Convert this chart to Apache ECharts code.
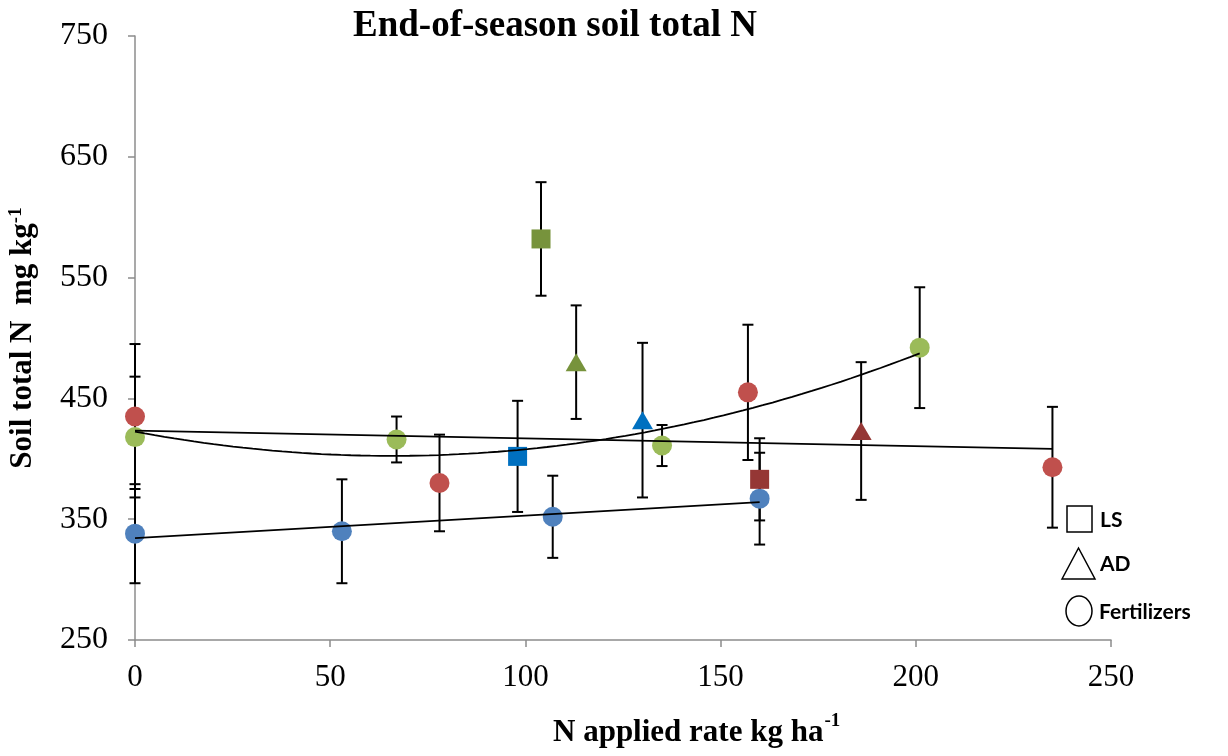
<!DOCTYPE html>
<html>
<head>
<meta charset="utf-8">
<title>End-of-season soil total N</title>
<script src="https://cdn.jsdelivr.net/npm/echarts@6/dist/echarts.min.js"></script>
<style>
  html, body { margin: 0; padding: 0; background: #ffffff; }
  #chart { width: 1228px; height: 756px; }
</style>
</head>
<body>
<div id="chart"></div>
<script>
// Fertilizer plots (circles), one set per season
const years = ['2009', '2010', '2011'];
const rate2009 = [0, 53, 107, 160];
const soilN2009 = [338, 340, 352, 367];
const se2009 = [41, 43, 34, 38];

const rate2010 = [0, 78, 157, 235];
const soilN2010 = [435, 380, 455, 393];
const se2010 = [60, 40, 56, 50];

const rate2011 = [0, 67, 135, 201];
const soilN2011 = [418, 416, 411, 492];
const se2011 = [50, 19, 17, 50];

// Liquid swine manure (LS), in season order 2009, 2010, 2011
const rateLS = [98, 160, 104];
const soilNLS = [402, 383, 582];
const seLS = [46, 34, 47];

// Anaerobic digestate (AD), in season order 2009, 2010, 2011
const rateAD = [130, 186, 113];
const soilNAD = [432, 423, 480];
const seAD = [64, 57, 47];

// Axis ticks
const xTicks = [0, 50, 100, 150, 200, 250];
const yTicks = [250, 350, 450, 550, 650, 750];

const circleColors = ['#4F81BD', '#C0504D', '#9BBB59'];
const manureColors = ['#0070C0', '#953735', '#77933C'];

// Least-squares fits used for the season trend lines
function linearFit(xs, ys) {
  const n = xs.length;
  const mx = xs.reduce((a, b) => a + b, 0) / n;
  const my = ys.reduce((a, b) => a + b, 0) / n;
  let sxy = 0, sxx = 0;
  for (let i = 0; i < n; i++) { sxy += (xs[i] - mx) * (ys[i] - my); sxx += (xs[i] - mx) * (xs[i] - mx); }
  const b = sxy / sxx;
  const a = my - b * mx;
  return x => a + b * x;
}
function quadFit(xs, ys) {
  // normal equations for y = c0 + c1 x + c2 x^2
  const S = [0, 0, 0, 0, 0], T = [0, 0, 0];
  for (let i = 0; i < xs.length; i++) {
    let p = 1;
    for (let k = 0; k < 5; k++) { S[k] += p; if (k < 3) T[k] += p * ys[i]; p *= xs[i]; }
  }
  const M = [[S[0], S[1], S[2], T[0]], [S[1], S[2], S[3], T[1]], [S[2], S[3], S[4], T[2]]];
  for (let c = 0; c < 3; c++) {
    for (let r = c + 1; r < 3; r++) {
      const f = M[r][c] / M[c][c];
      for (let k = c; k < 4; k++) M[r][k] -= f * M[c][k];
    }
  }
  const cf = [0, 0, 0];
  for (let r = 2; r >= 0; r--) {
    let s = M[r][3];
    for (let k = r + 1; k < 3; k++) s -= M[r][k] * cf[k];
    cf[r] = s / M[r][r];
  }
  return x => cf[0] + cf[1] * x + cf[2] * x * x;
}
function sampleFit(fn, xs, steps) {
  const lo = Math.min(...xs), hi = Math.max(...xs);
  const pts = [];
  for (let i = 0; i <= steps; i++) { const x = lo + (hi - lo) * i / steps; pts.push([x, fn(x)]); }
  return pts;
}

function errorRows(xs, ys, es) { return xs.map((x, i) => [x, ys[i] - es[i], ys[i] + es[i]]); }
function pointRows(xs, ys) { return xs.map((x, i) => [x, ys[i]]); }

const fits = [
  sampleFit(linearFit(rate2009, soilN2009), rate2009, 1),
  sampleFit(linearFit(rate2010, soilN2010), rate2010, 1),
  sampleFit(quadFit(rate2011, soilN2011), rate2011, 80)
];
const yearLabelOffset = [[16, 24], [20, -9], [19, -17]];
const yearLabelAnchor = [null, null, [rate2011[3], soilN2011[3]]];

function errorBarSeries(rows) {
  return {
    type: 'custom',
    data: rows,
    encode: { x: 0, y: [1, 2] },
    z: 2,
    silent: true,
    renderItem: function (params, api) {
      const x = api.value(0);
      const lo = api.coord([x, api.value(1)]);
      const hi = api.coord([x, api.value(2)]);
      const w = 5.5;
      const st = { stroke: '#000', lineWidth: 2 };
      return {
        type: 'group',
        children: [
          { type: 'line', shape: { x1: lo[0], y1: lo[1], x2: hi[0], y2: hi[1] }, style: st },
          { type: 'line', shape: { x1: lo[0] - w, y1: lo[1], x2: lo[0] + w, y2: lo[1] }, style: st },
          { type: 'line', shape: { x1: hi[0] - w, y1: hi[1], x2: hi[0] + w, y2: hi[1] }, style: st }
        ]
      };
    }
  };
}

const series = [];
// error bars
series.push(errorBarSeries(errorRows(rate2009, soilN2009, se2009)));
series.push(errorBarSeries(errorRows(rate2010, soilN2010, se2010)));
series.push(errorBarSeries(errorRows(rate2011, soilN2011, se2011)));
series.push(errorBarSeries(errorRows(rateLS, soilNLS, seLS)));
series.push(errorBarSeries(errorRows(rateAD, soilNAD, seAD)));

// fertilizer circles
[[rate2009, soilN2009], [rate2010, soilN2010], [rate2011, soilN2011]].forEach((d, i) => {
  series.push({
    type: 'scatter', data: pointRows(d[0], d[1]), symbol: 'circle', symbolSize: 20, z: 3,
    itemStyle: { color: circleColors[i], opacity: 1 }
  });
});
// manure squares and triangles, coloured by season
years.forEach((y, i) => {
  series.push({
    type: 'scatter', data: [[rateLS[i], soilNLS[i]]], symbol: 'rect', symbolSize: 19, z: 3,
    itemStyle: { color: manureColors[i], opacity: 1 }
  });
  series.push({
    type: 'scatter', data: [[rateAD[i], soilNAD[i]]], symbol: 'triangle', symbolSize: [21, 18], z: 3,
    itemStyle: { color: manureColors[i], opacity: 1 }
  });
});

// trend lines with year labels
fits.forEach((pts, i) => {
  const data = pts.map(p => ({ value: p }));
  series.push({
    type: 'line', data: data, showSymbol: false, smooth: false, z: 4, silent: true,
    lineStyle: { color: '#000', width: 1.8 },
    markPoint: {
      symbol: 'none',
      data: [{
        coord: yearLabelAnchor[i] || pts[pts.length - 1],
        label: {
          show: true, formatter: years[i], position: 'right', distance: 0,
          offset: yearLabelOffset[i],
          fontFamily: 'Liberation Sans, Arial, sans-serif', fontSize: 30, color: '#000'
        }
      }]
    }
  });
});

const serif = 'Liberation Serif, Times New Roman, serif';
const xTitleFont = 'bold 31px ' + serif;
const xTitleLeft = 553;

const option = {
  animation: false,
  backgroundColor: '#ffffff',
  grid: { left: 135, right: 117, top: 36, bottom: 116, containLabel: false, outerBoundsMode: 'none' },
  xAxis: {
    type: 'value', min: xTicks[0], max: xTicks[xTicks.length - 1], interval: xTicks[1] - xTicks[0],
    splitLine: { show: false },
    axisLine: { show: true, lineStyle: { color: '#8c8c8c', width: 1.5 } },
    axisTick: { show: true, length: 7, lineStyle: { color: '#8c8c8c', width: 1.5 } },
    axisLabel: { margin: 22, fontFamily: serif, fontSize: 31, color: '#000' }
  },
  yAxis: {
    type: 'value', min: yTicks[0], max: yTicks[yTicks.length - 1], interval: yTicks[1] - yTicks[0],
    splitLine: { show: false },
    axisLine: { show: true, lineStyle: { color: '#8c8c8c', width: 1.5 } },
    axisTick: { show: true, length: 7, lineStyle: { color: '#8c8c8c', width: 1.5 } },
    axisLabel: { margin: 27, fontFamily: serif, fontSize: 32, color: '#000' },
    name: 'Soil total N  mg kg{sup|-1}',
    nameLocation: 'middle', nameGap: 97, nameRotate: 90,
    nameTextStyle: {
      fontFamily: serif, fontSize: 31, fontWeight: 'bold', color: '#000',
      rich: { sup: { fontFamily: serif, fontSize: 19, fontWeight: 'bold', verticalAlign: 'top', padding: [0, 0, 12, 0] } }
    }
  },
  graphic: [
    {
      type: 'text', z: 10,
      style: { text: 'End-of-season soil total N', x: 555, y: 26, textAlign: 'center', textVerticalAlign: 'middle',
        font: 'bold 37px ' + serif, fill: '#000' }
    },
    {
      type: 'text', z: 10,
      style: { text: 'N applied rate kg ha', x: xTitleLeft, y: 733, textAlign: 'left', textVerticalAlign: 'middle',
        font: xTitleFont, fill: '#000' }
    },
    // legend key for manure types
    { type: 'rect', shape: { x: 1067, y: 506, width: 25, height: 26 }, style: { fill: 'none', stroke: '#000', lineWidth: 1.5 } },
    { type: 'polygon', shape: { points: [[1062, 579], [1078.5, 548], [1095, 579]] }, style: { fill: 'none', stroke: '#000', lineWidth: 1.5 } },
    { type: 'ellipse', shape: { cx: 1079, cy: 611, rx: 13, ry: 15 }, style: { fill: 'none', stroke: '#000', lineWidth: 1.5 } },
    { type: 'text', style: { text: 'LS', x: 1100, y: 520, textVerticalAlign: 'middle', font: 'bold 21px Lato, sans-serif', fill: '#000' } },
    { type: 'text', style: { text: 'AD', x: 1100, y: 564, textVerticalAlign: 'middle', font: 'bold 21px Lato, sans-serif', fill: '#000' } },
    { type: 'text', style: { text: 'Fertilizers', x: 1099, y: 612, textVerticalAlign: 'middle', font: 'bold 21px Lato, sans-serif', fill: '#000' } }
  ],
  series: series
};

const chart = echarts.init(document.getElementById('chart'), null, { renderer: 'canvas' });
chart.setOption(option);

// superscript on the x-axis title, placed right after the measured base text
(function () {
  const ctx = document.createElement('canvas').getContext('2d');
  ctx.font = xTitleFont;
  const w = ctx.measureText('N applied rate kg ha').width;
  const g = option.graphic.slice();
  g.push({ type: 'text', z: 10, style: { text: '-1', x: xTitleLeft + w + 1, y: 721, textVerticalAlign: 'middle', font: 'bold 19px ' + serif, fill: '#000' } });
  chart.setOption({ graphic: g });
})();
</script>
</body>
</html>
